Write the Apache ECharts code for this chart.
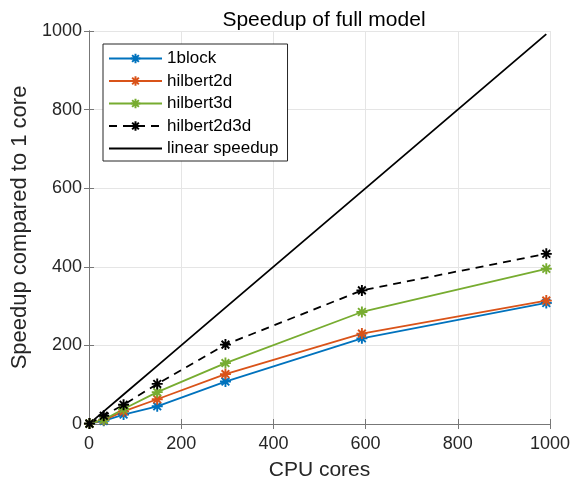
<!DOCTYPE html>
<html>
<head>
<meta charset="utf-8">
<script src="https://cdn.jsdelivr.net/npm/echarts@6/dist/echarts.min.js"></script>
<style>html,body{margin:0;padding:0;background:#fff;}#c{width:573px;height:486px;}</style>
</head>
<body>
<div id="c"></div>
<script>
const cores = [1, 32, 75, 148, 296, 592, 992];
const block1 = [1, 8, 24, 45, 108, 218, 308];
const hilbert2d = [1, 10, 32, 63, 127, 230, 314];
const hilbert3d = [1, 11, 38, 81, 155, 285, 395];
const hilbert2d3d = [1, 21, 49, 102, 202, 340, 433];
const linear = cores.slice();
const xTicks = [0, 200, 400, 600, 800, 1000];
const yTicks = [0, 200, 400, 600, 800, 1000];

const star = 'path://M0,-10L0,10M-10,0L10,0M-7,-7L7,7M-7,7L7,-7';
function mk(name, ys, color, dashed, sym) {
  return {
    name: name, type: 'line', data: cores.map((x, i) => [x, ys[i]]),
    symbol: sym ? star : 'none', symbolSize: 11, showSymbol: !!sym,
    lineStyle: { color: color, width: 1.8, type: dashed ? [8, 6] : 'solid' },
    itemStyle: { color: color, borderColor: color, borderWidth: 1.9 },
    animation: false, z: 3
  };
}
const font = 'Liberation Sans, Arial, sans-serif';
const chart = echarts.init(document.getElementById('c'));
chart.setOption({
  backgroundColor: '#fff',
  animation: false,
  title: { text: 'Speedup of full model', left: 319, top: 5, textAlign: 'center',
    textStyle: { fontFamily: font, fontSize: 21, fontWeight: 'normal', color: '#000' } },
  grid: { left: 89, right: 23, top: 31, bottom: 62 },
  legend: {
    left: 103, top: 44, orient: 'vertical', itemWidth: 53, itemHeight: 12, itemGap: 5.5,
    padding: [6, 9, 4, 5], borderColor: '#262626', borderWidth: 1, backgroundColor: '#fff',
    textStyle: { fontFamily: font, fontSize: 17, color: '#000' },
    data: ['1block', 'hilbert2d', 'hilbert3d', 'hilbert2d3d',
      { name: 'linear speedup', itemStyle: { opacity: 0 } }]
  },
  xAxis: [{
    type: 'value', min: 0, max: 1000, interval: 200, name: 'CPU cores', nameLocation: 'middle', nameGap: 36,
    nameTextStyle: { fontFamily: font, fontSize: 21, color: '#262626' },
    axisLine: { show: true, lineStyle: { color: '#777' } },
    axisTick: { show: true, inside: true, length: 5, lineStyle: { color: '#777' } },
    axisLabel: { fontFamily: font, fontSize: 18, color: '#262626', margin: 11, formatter: v => String(v) },
    splitLine: { show: true, lineStyle: { color: '#e5e5e5' } }
  }, {
    type: 'value', position: 'top', min: 0, max: 1000, interval: 200,
    axisLine: { show: true, lineStyle: { color: '#777' } },
    axisTick: { show: true, inside: true, length: 5, lineStyle: { color: '#777' } },
    axisLabel: { show: false }, splitLine: { show: false }
  }],
  yAxis: [{
    type: 'value', min: 0, max: 1000, interval: 200, name: 'Speedup compared to 1 core', nameLocation: 'middle', nameGap: 58,
    nameTextStyle: { fontFamily: font, fontSize: 22, color: '#262626' },
    axisLine: { show: true, lineStyle: { color: '#777' } },
    axisTick: { show: true, inside: true, length: 5, lineStyle: { color: '#777' } },
    axisLabel: { fontFamily: font, fontSize: 18, color: '#262626', margin: 7, formatter: v => String(v) },
    splitLine: { show: true, lineStyle: { color: '#e5e5e5' } }
  }, {
    type: 'value', position: 'right', min: 0, max: 1000, interval: 200,
    axisLine: { show: true, lineStyle: { color: '#777' } },
    axisTick: { show: true, inside: true, length: 5, lineStyle: { color: '#777' } },
    axisLabel: { show: false }, splitLine: { show: false }
  }],
  series: [
    mk('1block', block1, '#0072BD', false, true),
    mk('hilbert2d', hilbert2d, '#D95319', false, true),
    mk('hilbert3d', hilbert3d, '#77AC30', false, true),
    mk('hilbert2d3d', hilbert2d3d, '#000000', true, true),
    mk('linear speedup', linear, '#000000', false, false)
  ]
});
</script>
</body>
</html>
